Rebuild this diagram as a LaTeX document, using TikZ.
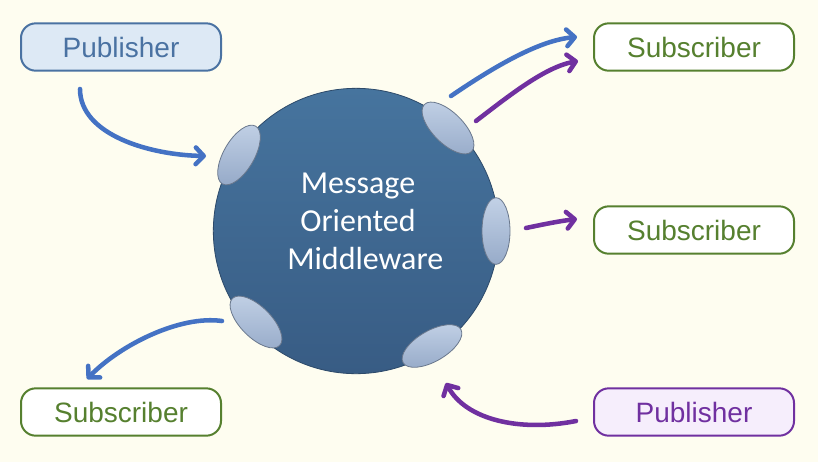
\documentclass[tikz,border=0pt]{standalone}
\usepackage{fontspec}
\usetikzlibrary{shapes.geometric,arrows.meta}
\newfontfamily\boxfont{Liberation Sans}
\newfontfamily\momfont{Carlito}
\definecolor{paper}{HTML}{FEFDF0}
\definecolor{pubblue}{HTML}{4A72A2}
\definecolor{pubfill}{HTML}{DDE9F5}
\definecolor{subgreen}{HTML}{56802F}
\definecolor{pubpurple}{HTML}{7030A0}
\definecolor{purfill}{HTML}{F6EEFC}
\definecolor{arrblue}{HTML}{4472C4}
\definecolor{momtop}{HTML}{46749E}
\definecolor{mombot}{HTML}{385C84}
\definecolor{porttop}{HTML}{C2D1E6}
\definecolor{portbot}{HTML}{97ABC9}

\begin{document}
\begin{tikzpicture}[x=0.75pt,y=-0.75pt]
\tikzstyle{every node}+=[inner sep=0pt]
\tikzstyle{box}=[draw, rounded corners=11pt, minimum width=150pt, minimum height=35.5pt, line width=1.5pt, font=\boxfont\fontsize{21}{25}\selectfont]
\tikzstyle{pubbox}=[box, draw=pubblue, fill=pubfill, text=pubblue]
\tikzstyle{subbox}=[box, draw=subgreen, fill=white, text=subgreen]
\tikzstyle{purbox}=[box, draw=pubpurple, fill=purfill, text=pubpurple]
\tikzstyle{port}=[ellipse, draw=portbot!70!black, line width=0.6pt, minimum width=50pt, minimum height=23pt, top color=porttop, bottom color=portbot]
\tikzstyle{flow}=[line width=3.4pt, line cap=round, -{Straight Barb[length=6pt,width=12.5pt,round]}]
\fill [paper] (0,0) rectangle (818,462);
\fill [white] (818,0) rectangle (824,462);
\node [circle, draw=mombot!80!black, line width=0.6pt, minimum size=214pt, top color=momtop, bottom color=mombot] (mom) at (356,231) {};
\node [text=white, align=center, font=\momfont\fontsize{24}{28.5}\selectfont] (momtext) at (358,221) {Message\\Oriented\\\ \ Middleware};
\node [port, rotate=60] (portA) at (239,155) {};
\node [port, rotate=-45] (portB) at (448,128) {};
\node [port, rotate=90, minimum height=21pt] (portC) at (496,231) {};
\node [port, rotate=-45] (portD) at (256,322) {};
\node [port, rotate=30] (portE) at (432,346) {};
\node [pubbox] (pubA) at (121,47) {Publisher};
\node [subbox] (subA) at (694,47) {Subscriber};
\node [subbox] (subB) at (694,230) {Subscriber};
\node [subbox] (subC) at (121,412) {Subscriber};
\node [purbox] (pubB) at (694,412) {Publisher};
\coordinate (a1) at (80,89);
\coordinate (a2) at (206,156);
\coordinate (b1) at (451,96);
\coordinate (b2) at (577,37);
\coordinate (c1) at (476,121);
\coordinate (c2) at (578,61);
\coordinate (d1) at (526,228);
\coordinate (d2) at (577,219);
\coordinate (e1) at (222,321);
\coordinate (e2) at (87,379);
\coordinate (f1) at (576,421);
\coordinate (f2) at (446,383);
\draw [flow, arrblue] (a1) .. controls (80,135) and (150,155) .. (a2);
\draw [flow, arrblue] (b1) .. controls (495,66) and (540,40) .. (b2);
\draw [flow, pubpurple] (c1) .. controls (510,95) and (545,67) .. (c2);
\draw [flow, pubpurple] (d1) .. controls (545,224) and (560,221) .. (d2);
\draw [flow, arrblue] (e1) .. controls (180,315) and (120,345) .. (e2);
\draw [flow, pubpurple] (f1) .. controls (520,432) and (466,420) .. (f2);
\end{tikzpicture}
\end{document}
